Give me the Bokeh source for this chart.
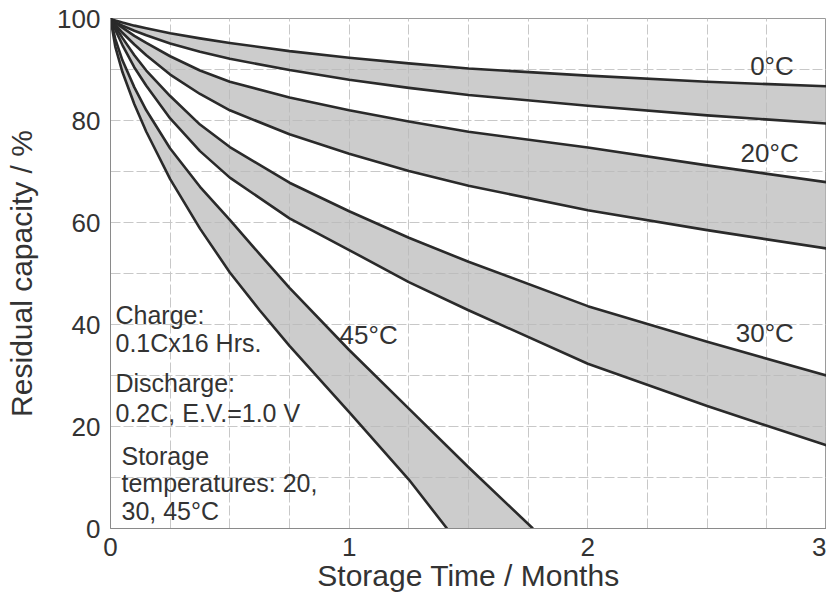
from bokeh.plotting import figure
from bokeh.models import Range1d, FixedTicker
from bokeh.core.properties import value
from bokeh.embed import file_html
from bokeh.resources import INLINE

# ---- data ----
months = [0, 0.02, 0.05, 0.1, 0.15, 0.25, 0.375, 0.5, 0.75, 1.0, 1.25, 1.5, 2.0, 2.5, 3.0]
cap_0C_upper = [100, 99.6, 99.2, 98.6, 98.1, 97.1, 96.1, 95.2, 93.6, 92.3, 91.2, 90.2, 88.8, 87.6, 86.7]
cap_0C_lower = [100, 99.3, 98.6, 97.6, 96.7, 95.1, 93.5, 92.1, 89.9, 88.0, 86.4, 85.0, 82.9, 81.0, 79.4]
cap_20C_upper = [100, 99.2, 98.2, 96.6, 95.2, 92.6, 89.8, 87.6, 84.5, 82.0, 79.8, 77.8, 74.7, 71.2, 67.9]
cap_20C_lower = [100, 98.8, 97.2, 94.9, 92.8, 89.0, 85.2, 82.0, 77.3, 73.5, 70.1, 67.2, 62.4, 58.5, 54.9]
cap_30C_upper = [100, 98.4, 96.2, 92.8, 89.8, 84.8, 79.2, 74.8, 67.8, 62.2, 57.0, 52.3, 43.6, 36.6, 30.0]
cap_30C_lower = [100, 97.8, 94.8, 90.4, 86.8, 80.4, 74.0, 68.8, 60.8, 54.6, 48.3, 42.8, 32.3, 24.0, 16.3]

months_45C_upper = [0, 0.02, 0.05, 0.1, 0.15, 0.25, 0.375, 0.5, 0.625, 0.75, 1.0, 1.25, 1.5, 1.77]
cap_45C_upper = [100, 96.0, 91.8, 86.5, 82.0, 74.5, 67.0, 60.5, 53.8, 47.2, 35.0, 23.5, 12.0, 0]
months_45C_lower = [0, 0.02, 0.05, 0.1, 0.15, 0.25, 0.375, 0.5, 0.625, 0.75, 1.0, 1.25, 1.41]
cap_45C_lower = [100, 94.5, 89.5, 83.2, 77.8, 68.5, 58.8, 50.2, 42.8, 35.8, 22.8, 9.6, 0]

x_ticks = [0, 1, 2, 3]
y_ticks = [0, 20, 40, 60, 80, 100]
x_grid = [0, 0.25, 0.5, 0.75, 1.0, 1.25, 1.5, 1.75, 2.0, 2.25, 2.5, 2.75, 3.0]
y_grid = [0, 10, 20, 30, 40, 50, 60, 70, 80, 90, 100]

band_labels = ["0°C", "20°C", "30°C", "45°C"]
notes = ["Charge:", "0.1Cx16 Hrs.", "Discharge:", "0.2C, E.V.=1.0 V",
         "Storage", "temperatures: 20,", "30, 45°C"]

# ---- styling ----
FONT = "Liberation Sans"
TXT = "#333333"
LINE = "#2a2a2a"
FILL = "#b8b8b8"

p = figure(width=826, height=594, x_range=Range1d(0, 3), y_range=Range1d(0, 100),
           output_backend="svg", toolbar_location=None,
           min_border_left=110, min_border_right=0, min_border_top=18, min_border_bottom=66)
p.background_fill_color = "white"
p.border_fill_color = "white"
p.outline_line_color = "#9a9a9a"

p.xgrid.ticker = FixedTicker(ticks=x_grid)
p.ygrid.ticker = FixedTicker(ticks=y_grid)
for g in (p.xgrid, p.ygrid):
    g.grid_line_color = "#c8c8c8"
    g.grid_line_width = 1
    g.grid_line_dash = "10 3"

for ax in (p.xaxis, p.yaxis):
    ax.major_tick_line_color = None
    ax.minor_tick_line_color = None
    ax.axis_line_color = "#8a8a8a"
    ax.major_label_text_font = FONT
    ax.major_label_text_font_size = "26px"
    ax.major_label_text_color = TXT
    ax.axis_label_text_font = FONT
    ax.axis_label_text_font_size = "30px"
    ax.axis_label_text_font_style = "normal"
    ax.axis_label_text_color = TXT

p.xaxis.ticker = FixedTicker(ticks=x_ticks)
p.yaxis.ticker = FixedTicker(ticks=y_ticks)
p.xaxis.axis_label = "Storage Time / Months"
p.yaxis.axis_label = "Residual capacity / %"
p.xaxis.major_label_standoff = 3
p.xaxis.axis_label_standoff = 0
p.yaxis.major_label_standoff = 4
p.yaxis.axis_label_standoff = 16

# ---- bands ----
bands = [
    (months, cap_0C_upper, months, cap_0C_lower),
    (months, cap_20C_upper, months, cap_20C_lower),
    (months, cap_30C_upper, months, cap_30C_lower),
    (months_45C_upper, cap_45C_upper, months_45C_lower, cap_45C_lower),
]
for tx_hi, hi, tx_lo, lo in bands:
    xs = list(tx_hi) + list(tx_lo)[::-1]
    ys = list(hi) + list(lo)[::-1]
    p.patch(xs, ys, fill_color=FILL, fill_alpha=0.72, line_color=None)
for tx_hi, hi, tx_lo, lo in bands:
    p.line(tx_hi, hi, line_color=LINE, line_width=2.6, line_join="round")
    p.line(tx_lo, lo, line_color=LINE, line_width=2.6, line_join="round")

# ---- band labels ----
label_x = [2.68, 2.64, 2.62, 0.96]
label_y = [90.6, 73.7, 38.4, 38.0]
p.text(x=label_x, y=label_y, text=band_labels, text_font=value(FONT),
       text_font_size="26px", text_color=TXT, text_baseline="middle", text_align="left")

# ---- conditions note ----
note_x = [0.021, 0.021, 0.021, 0.021, 0.046, 0.046, 0.046]
note_y = [41.8, 36.3, 28.6, 22.7, 14.3, 9.0, 3.5]
p.text(x=note_x, y=note_y, text=notes, text_font=value(FONT),
       text_font_size="25px", text_color=TXT, text_baseline="alphabetic", text_align="left")

open("out.html", "w").write(file_html(p, INLINE))
